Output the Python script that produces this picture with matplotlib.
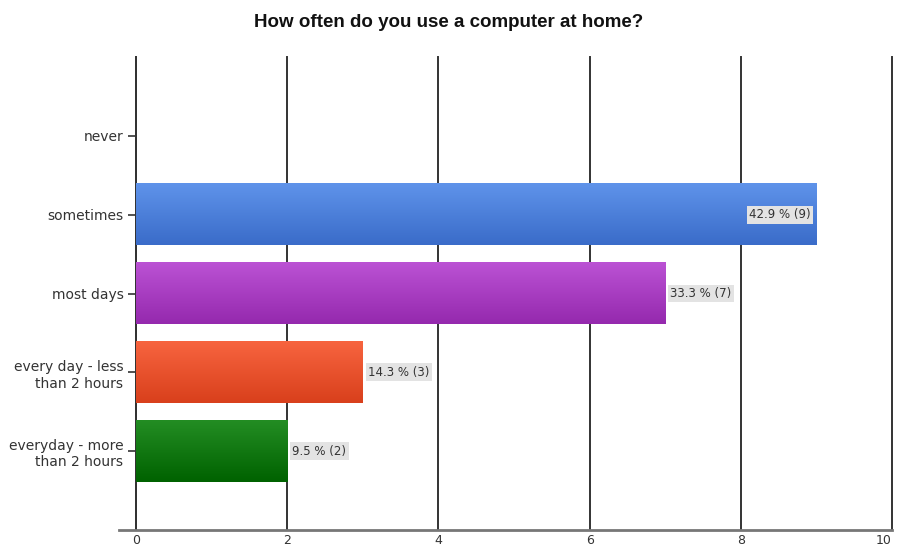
import numpy as np
import matplotlib.pyplot as plt
from matplotlib.colors import LinearSegmentedColormap

# Survey answers, top to bottom
categories = ['never', 'sometimes', 'most days',
              'every day - less\nthan 2 hours', 'everyday - more\nthan 2 hours']
counts = [0, 9, 7, 3, 2]
labels = ['', '42.9 % (9)', '33.3 % (7)', '14.3 % (3)', '9.5 % (2)']
# top / bottom colour of each bar's gradient
colors_top = ['#ffffff', '#5f93ea', '#bb52d4', '#f7643f', '#238d23']
colors_bot = ['#ffffff', '#3a6cc9', '#9529ae', '#d9401c', '#006200']
xticks = [0, 2, 4, 6, 8, 10]

plt.rcParams['font.family'] = ['DejaVu Sans']

fig = plt.figure(figsize=(8.98, 5.48), dpi=100)
ax = fig.add_axes([0.1514, 0.0328, 0.8419, 0.8632])

pos = np.arange(1, len(categories) + 1)
bars = ax.barh(pos, counts, height=0.78, color='none', zorder=3)

# gradient fill for each bar
for bar, ct, cb in zip(bars, colors_top, colors_bot):
    if bar.get_width() == 0:
        continue
    cmap = LinearSegmentedColormap.from_list('g', [ct, cb])
    x0, y0 = bar.get_x(), bar.get_y()
    w, h = bar.get_width(), bar.get_height()
    grad = np.linspace(0, 1, 64).reshape(-1, 1)
    ax.imshow(grad, cmap=cmap, aspect='auto', extent=(x0, x0 + w, y0 + h, y0),
              zorder=3, interpolation='bilinear')

# value labels
for bar, lab in zip(bars, labels):
    if not lab:
        continue
    w = bar.get_width()
    yc = bar.get_y() + bar.get_height() / 2
    box = dict(boxstyle='square,pad=0.2', fc='#e3e3e3', ec='none')
    if w > 8:
        ax.text(w - 0.07, yc, lab, ha='right', va='center', fontsize=8.5,
                color='#333333', bbox=box, zorder=5)
    else:
        ax.text(w + 0.07, yc, lab, ha='left', va='center', fontsize=8.5,
                color='#333333', bbox=box, zorder=5)

ax.set_xlim(0, 10)
ax.set_ylim(6, 0)
ax.set_xticks(xticks)
ax.set_xticklabels([str(t) for t in xticks], fontsize=9, color='#333333')
# last label sits on the figure edge, keep it inside
ax.get_xticklabels()[-1].set_horizontalalignment('right')
ax.set_yticks(pos)
ax.set_yticklabels(categories, fontsize=10, color='#333333', linespacing=1.25)
ax.xaxis.grid(True, color='#333333', linewidth=1.4, zorder=1)
for gl in ax.get_xgridlines():
    gl.set_clip_on(False)
ax.set_axisbelow(True)

for s in ['top', 'right']:
    ax.spines[s].set_visible(False)
ax.spines['left'].set_color('#333333')
ax.spines['left'].set_linewidth(1.4)
ax.spines['bottom'].set_color('#777777')
ax.spines['bottom'].set_linewidth(2)
ax.spines['bottom'].set_bounds(-0.22, 10)
ax.tick_params(axis='y', length=6, width=1.2, color='#333333', pad=3)
ax.tick_params(axis='x', length=0, pad=3)

fig.suptitle('How often do you use a computer at home?', x=0.5, y=0.975,
             fontsize=13.5, fontweight='bold', color='#111111',
             family='Liberation Sans')

fig.savefig('out.png', dpi=100)
